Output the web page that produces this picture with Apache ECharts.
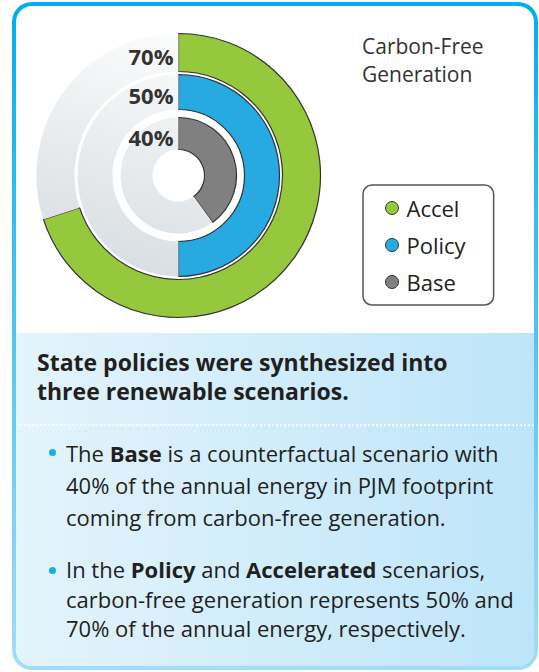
<!DOCTYPE html>
<html>
<head>
<meta charset="utf-8">
<script src="https://cdn.jsdelivr.net/npm/echarts@6/dist/echarts.min.js"></script>
<style>
  html, body { margin: 0; padding: 0; width: 539px; height: 672px; overflow: hidden; background: #fff; }
  body { position: relative; font-family: 'Open Sans', sans-serif; color: #231f20; }
  .frame { position: absolute; left: 12px; top: 2px; width: 526px; height: 668px; border-radius: 20px;
           background: linear-gradient(to bottom, #00aeef, #a3ddf7); }
  .inner { position: absolute; left: 4px; top: 4px; right: 4px; bottom: 4px; border-radius: 16px;
           background: #fff; overflow: hidden; }
  .panel { position: absolute; left: 0; right: 0; top: 327px; bottom: 0;
           background: linear-gradient(to right, #e4f4fc, #bde5f9); }
  .sep { position: absolute; left: 0; right: 0; top: 91px; border-top: 2px dotted rgba(255,255,255,0.95); }
  #chart { position: absolute; left: 0; top: 0; width: 539px; height: 333px; }
  .head { position: absolute; left: 37px; top: 348px; font-size: 23px; line-height: 29px; font-weight: 700; white-space: nowrap; }
  .note { position: absolute; left: 66px; font-size: 22px; white-space: nowrap; }
  .note b { font-weight: 700; }
  .note::before { content: ''; position: absolute; left: -17px; top: 12px; width: 7px; height: 7px;
                  border-radius: 50%; background: #1aaee8; }
</style>
</head>
<body>
<div class="frame"><div class="inner"><div class="panel"><div class="sep"></div></div></div></div>
<div id="chart"></div>
<div class="head">State policies were synthesized into<br>three renewable scenarios.</div>
<div class="note" style="top:437px; line-height:32px;">The <b>Base</b> is a counterfactual scenario with<br>40% of the annual energy in PJM footprint<br>coming from carbon-free generation.</div>
<div class="note" style="top:555px; line-height:29.5px;">In the <b>Policy</b> and <b>Accelerated</b> scenarios,<br>carbon-free generation represents 50% and<br>70% of the annual energy, respectively.</div>
<script>
// scenario shares of annual energy from carbon-free generation (%)
const scenarios = ['Accel', 'Policy', 'Base'];
const shares = [70, 50, 40];

const colors = ['#96c83d', '#27aae1', '#808080'];
const rings = [[104, 142], [66, 101], [26, 58]];
const CX = 178.5, CY = 175.5;
const FONT = "'Open Sans', sans-serif";

const chart = echarts.init(document.getElementById('chart'), null, { renderer: 'svg' });

const track = new echarts.graphic.LinearGradient(170, 35, 90, 300, [
  { offset: 0, color: '#fbfcfc' },
  { offset: 1, color: '#d3d9de' }
], true);

const series = scenarios.map((name, i) => ({
  type: 'pie',
  center: [CX, CY],
  radius: rings[i],
  startAngle: 90,
  clockwise: true,
  animation: false,
  silent: true,
  avoidLabelOverlap: false,
  emphasis: { disabled: true },
  labelLine: { show: false },
  label: { show: false },
  labelLayout: {
    x: CX - 5,
    y: CY - (rings[i][0] + rings[i][1]) / 2 + 3,
    align: 'right',
    verticalAlign: 'middle'
  },
  data: [
    {
      name: name,
      value: shares[i],
      itemStyle: { color: colors[i], borderColor: '#333', borderWidth: 1.2 },
      label: {
        show: true, position: 'inside', formatter: '{c}%',
        fontSize: 22, fontWeight: 'bold', color: '#333', fontFamily: FONT
      }
    },
    {
      name: 'rest',
      value: 100 - shares[i],
      itemStyle: { color: track, borderWidth: 0 },
      label: { show: false }
    }
  ]
}));

chart.setOption({
  title: {
    text: 'Carbon-Free\nGeneration',
    left: 362,
    top: 32,
    padding: 0,
    textStyle: { fontSize: 21, fontWeight: 'normal', color: '#333', lineHeight: 28, fontFamily: FONT }
  },
  legend: {
    data: scenarios,
    orient: 'vertical',
    left: 363,
    top: 185,
    icon: 'circle',
    itemWidth: 13,
    itemHeight: 13,
    itemGap: 15,
    itemStyle: { borderColor: '#333', borderWidth: 1 },
    selectedMode: false,
    padding: [12, 28, 12, 22],
    backgroundColor: '#fff',
    borderColor: '#555',
    borderWidth: 1.5,
    borderRadius: 9,
    textStyle: { fontSize: 22, color: '#222', fontFamily: FONT, padding: [0, 0, 0, 3] }
  },
  series: series
});
</script>
</body>
</html>
